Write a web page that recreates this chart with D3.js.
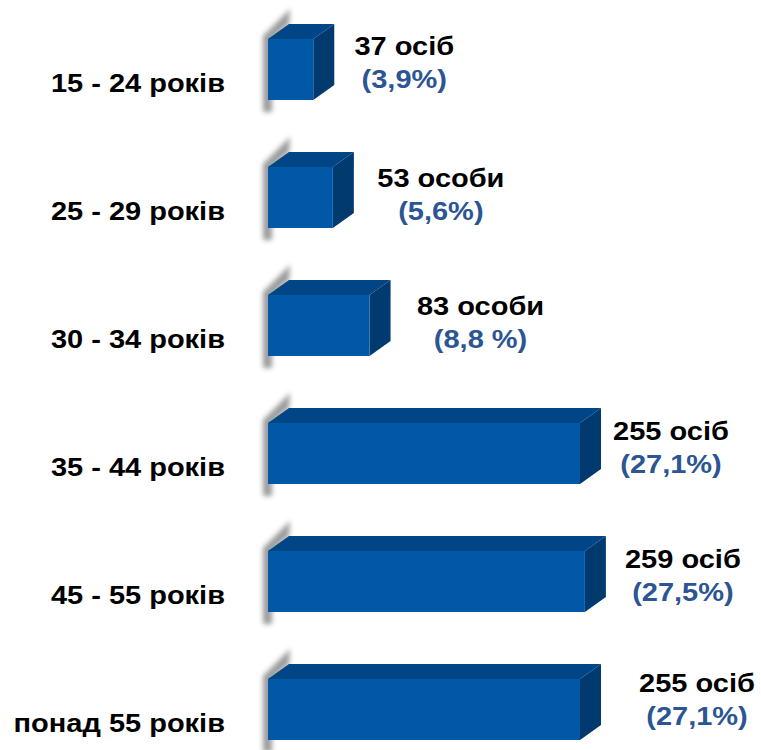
<!DOCTYPE html>
<html><head><meta charset="utf-8">
<script src="https://cdn.jsdelivr.net/npm/d3@7"></script>
<style>body{margin:0;background:#fff}svg{display:block}</style>
</head><body>
<script>
const categories = ["15 - 24 років","25 - 29 років","30 - 34 років","35 - 44 років","45 - 55 років","понад 55 років"];
const values = [37, 53, 83, 255, 259, 255];
const countLabels = ["37 осіб","53 особи","83 особи","255 осіб","259 осіб","255 осіб"];
const pctLabels = ["(3,9%)","(5,6%)","(8,8 %)","(27,1%)","(27,5%)","(27,1%)"];
// label nudges (layout only)
const labelDx = [70, 87, 90, 70, 77, 96];
const labelDy = [16, 20, 20, 17, 17, 13];

const W = 761, H = 750;
const svg = d3.select("body").append("svg").attr("width", W).attr("height", H);
const defs = svg.append("defs");
defs.append("filter").attr("id","blur").attr("x","-50%").attr("y","-50%").attr("width","200%").attr("height","200%")
  .append("feGaussianBlur").attr("stdDeviation", 2.6);

const x = d3.scaleLinear().domain([0, 255]).range([268, 580]);
const y = d3.scaleBand().domain(categories).range([39, 740]).paddingInner(0.5234).paddingOuter(0);
const dx = 21, dy = 15;
const sx = 1.16, fs = 25;

const g = svg.selectAll("g.bar").data(categories).join("g").attr("class","bar");

g.each(function(c, i) {
  const sel = d3.select(this);
  const x0 = x(0), x1 = x(values[i]);
  const yT = y(c), yB = yT + y.bandwidth();
  // shadow
  sel.append("path")
    .attr("d", d3.line()([[x0+dx+1, yT-dy-15],[x0-5, yT-3],[x0-5, yB+12],[x0+4, yB+12],[x0+4, yT],[x0+dx, yT-dy]]) + "Z")
    .attr("fill", "#8a8a8a").attr("opacity", 0.85).attr("filter","url(#blur)");
  // top face
  sel.append("path")
    .attr("d", d3.line()([[x0, yT],[x0+dx, yT-dy],[x1+dx, yT-dy],[x1, yT]]) + "Z")
    .attr("fill", "#004686");
  // side face
  sel.append("path")
    .attr("d", d3.line()([[x1, yT],[x1+dx, yT-dy],[x1+dx, yB-dy],[x1, yB]]) + "Z")
    .attr("fill", "#003a6e");
  // front face
  sel.append("rect").attr("x", x0).attr("y", yT).attr("width", x1 - x0).attr("height", yB - yT)
    .attr("fill", "#0058a6");
  // category label
  sel.append("text")
    .attr("transform", `translate(225,${yT + 53}) scale(${sx},1)`)
    .attr("text-anchor","end")
    .attr("font-family","Liberation Sans, Arial, sans-serif")
    .attr("font-weight","bold").attr("font-size", fs).attr("fill","#000")
    .text(c);
  // value labels
  const cx = x1 + dx + labelDx[i];
  sel.append("text")
    .attr("transform", `translate(${cx},${yT + labelDy[i]}) scale(${sx},1)`)
    .attr("text-anchor","middle")
    .attr("font-family","Liberation Sans, Arial, sans-serif")
    .attr("font-weight","bold").attr("font-size", fs).attr("fill","#000")
    .text(countLabels[i]);
  sel.append("text")
    .attr("transform", `translate(${cx},${yT + labelDy[i] + 33}) scale(${sx},1)`)
    .attr("text-anchor","middle")
    .attr("font-family","Liberation Sans, Arial, sans-serif")
    .attr("font-weight","bold").attr("font-size", fs).attr("fill","#2c5593")
    .text(pctLabels[i]);
});
</script>
</body></html>
